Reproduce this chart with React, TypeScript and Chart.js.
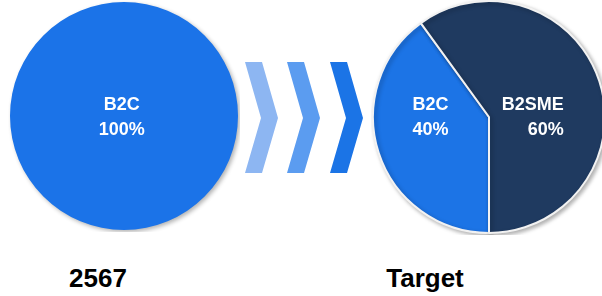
import React, { useEffect, useRef } from 'react';
import { Chart, registerables } from 'chart.js';

Chart.register(...registerables);

// ---- data ----
const nowLabels = ['B2C'];
const nowValues = [100];
const targetLabels = ['B2C', 'B2SME'];
const targetValues = [40, 60];
const captions = ['2567', 'Target'];

// ---- styles ----
const nowColors = ['#1b73e8'];
const targetColors = ['#1c74e6', '#1f3a60'];
const chevronColors = ['#8db6f2', '#5b9cf0', '#1b74e6'];
const FONT = 'Arial, "Liberation Sans", Helvetica, sans-serif';

const shadowPlugin = {
  id: 'pieShadow',
  beforeDatasetsDraw(chart: any, _a: any, opts: any) {
    const ctx = chart.ctx;
    ctx.save();
    ctx.shadowColor = opts.color || 'rgba(0,0,0,0.35)';
    ctx.shadowBlur = 4;
    ctx.shadowOffsetX = 2;
    ctx.shadowOffsetY = 2;
  },
  afterDatasetsDraw(chart: any) {
    chart.ctx.restore();
  },
};

const sliceTextPlugin = {
  id: 'sliceText',
  afterDatasetsDraw(chart: any, _a: any, opts: any) {
    const meta = chart.getDatasetMeta(0);
    const ctx = chart.ctx;
    const ds = chart.data.datasets[0];
    meta.data.forEach((arc: any, i: number) => {
      const { x, y, outerRadius } = arc.getProps(['x', 'y', 'outerRadius'], true);
      const p = opts.places[i];
      ctx.save();
      ctx.font = 'bold 18px ' + FONT;
      ctx.fillStyle = '#ffffff';
      ctx.textAlign = p.align;
      ctx.textBaseline = 'alphabetic';
      const tx = x + p.dx * outerRadius;
      const ty = y + p.dy * outerRadius;
      ctx.fillText(String(chart.data.labels[i]), tx, ty);
      ctx.fillText(ds.data[i] + '%', tx, ty + 25);
      ctx.restore();
    });
  },
};

function makePie(canvas: HTMLCanvasElement, labels: string[], values: number[], colors: string[], border: number, places: any[], padding: number) {
  return new Chart(canvas, {
    type: 'pie',
    data: {
      labels,
      datasets: [
        {
          data: values,
          backgroundColor: colors,
          borderColor: '#f2f2f2',
          borderWidth: border,
        },
      ],
    },
    options: {
      animation: false,
      responsive: false,
      rotation: 180,
      layout: { padding },
      plugins: {
        legend: { display: false },
        tooltip: { enabled: false },
        // @ts-ignore
        sliceText: { places },
        // @ts-ignore
        pieShadow: { color: 'rgba(0,0,0,0.3)' },
      },
    } as any,
    plugins: [shadowPlugin, sliceTextPlugin],
  });
}

function Chevrons() {
  const ref = useRef<HTMLCanvasElement>(null);
  useEffect(() => {
    const c = ref.current!;
    const ctx = c.getContext('2d')!;
    ctx.clearRect(0, 0, c.width, c.height);
    const top = 12, bottom = 123, mid = 68;
    const starts = [15, 57, 100];
    const arm = 17, depth = 33;
    chevronColors.forEach((col, i) => {
      const x0 = starts[i];
      ctx.beginPath();
      ctx.moveTo(x0, top);
      ctx.lineTo(x0 + arm, top);
      ctx.lineTo(x0 + depth, mid);
      ctx.lineTo(x0 + arm, bottom);
      ctx.lineTo(x0, bottom);
      ctx.lineTo(x0 + depth - arm, mid);
      ctx.closePath();
      ctx.fillStyle = col;
      ctx.fill();
    });
  }, []);
  return <canvas ref={ref} width={150} height={140} style={{ position: 'absolute', left: 230, top: 50 }} />;
}

export default function App() {
  const leftRef = useRef<HTMLCanvasElement>(null);
  const rightRef = useRef<HTMLCanvasElement>(null);

  useEffect(() => {
    const a = makePie(leftRef.current!, nowLabels, nowValues, nowColors, 0, [{ dx: -0.02, dy: -0.053, align: 'center' }], 2);
    const b = makePie(
      rightRef.current!,
      targetLabels,
      targetValues,
      targetColors,
      2,
      [
        { dx: -0.66, dy: -0.06, align: 'left' },
        { dx: 0.645, dy: -0.06, align: 'right' },
      ],
      1
    );
    return () => {
      a.destroy();
      b.destroy();
    };
  }, []);

  const capStyle: React.CSSProperties = {
    position: 'absolute',
    top: 265,
    width: 160,
    textAlign: 'center',
    font: 'bold 26px ' + FONT,
    lineHeight: '26px',
    color: '#000',
  };

  return (
    <div style={{ position: 'fixed', left: 0, top: 0, width: 602, height: 296, overflow: 'hidden', background: '#fff' }}>
      <canvas ref={leftRef} width={232} height={232} style={{ position: 'absolute', left: 8, top: 0 }} />
      <Chevrons />
      <canvas ref={rightRef} width={236} height={236} style={{ position: 'absolute', left: 371, top: -1 }} />
      <div style={{ ...capStyle, left: 98 - 80 }}>{captions[0]}</div>
      <div style={{ ...capStyle, left: 425 - 80 }}>{captions[1]}</div>
    </div>
  );
}
